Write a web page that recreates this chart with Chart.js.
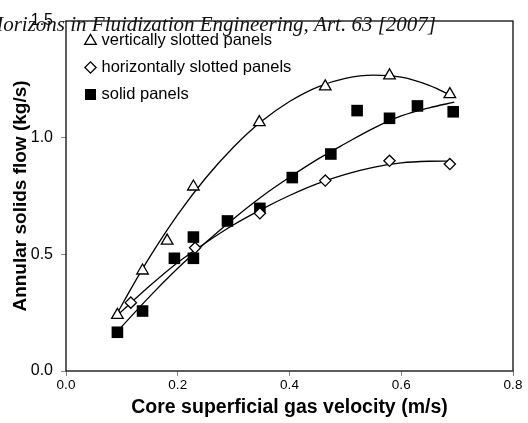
<!DOCTYPE html>
<html><head><meta charset="utf-8">
<script src="https://cdn.jsdelivr.net/npm/chart.js@4/dist/chart.umd.min.js"></script>
<style>html,body{margin:0;padding:0;background:#fff}#wrap{width:528px;height:423px;position:relative}</style>
</head><body><div id="wrap"><canvas id="c" width="528" height="423"></canvas></div>
<script>
const headerText = 'Horizons in Fluidization Engineering, Art. 63 [2007]';
const xTitle = 'Core superficial gas velocity (m/s)';
const yTitle = 'Annular solids flow (kg/s)';
const xTicks = [0, 0.2, 0.4, 0.6, 0.8];
const yTicks = [0, 0.5, 1.0, 1.5];
const seriesNames = ['vertically slotted panels', 'horizontally slotted panels', 'solid panels'];

const vertX = [0.092, 0.137, 0.181, 0.228, 0.346, 0.464, 0.579, 0.687];
const vertY = [0.24, 0.43, 0.558, 0.79, 1.066, 1.219, 1.266, 1.186];
const horX = [0.116, 0.231, 0.347, 0.464, 0.579, 0.687];
const horY = [0.293, 0.528, 0.676, 0.816, 0.901, 0.887];
const solidX = [0.092, 0.137, 0.194, 0.228, 0.228, 0.289, 0.347, 0.405, 0.474, 0.521, 0.579, 0.629, 0.693];
const solidY = [0.166, 0.257, 0.483, 0.574, 0.483, 0.643, 0.697, 0.829, 0.930, 1.116, 1.083, 1.136, 1.111];

// trend curves
const vertFitX = [0.09, 0.12, 0.15, 0.2, 0.25, 0.3, 0.35, 0.4, 0.45, 0.5, 0.55, 0.6, 0.65, 0.69];
const vertFitY = [0.24, 0.368, 0.489, 0.67, 0.827, 0.96, 1.07, 1.155, 1.217, 1.254, 1.268, 1.259, 1.224, 1.18];
const horFitX = [0.09, 0.15, 0.2, 0.25, 0.3, 0.35, 0.4, 0.45, 0.5, 0.55, 0.6, 0.65, 0.69];
const horFitY = [0.235, 0.365, 0.465, 0.55, 0.627, 0.693, 0.752, 0.803, 0.843, 0.873, 0.892, 0.899, 0.90];
const solidFitX = [0.09, 0.15, 0.2, 0.25, 0.3, 0.35, 0.4, 0.45, 0.5, 0.55, 0.6, 0.65, 0.695];
const solidFitY = [0.165, 0.32, 0.44, 0.551, 0.653, 0.747, 0.83, 0.907, 0.975, 1.04, 1.093, 1.128, 1.152];

const pts = (xs, ys) => xs.map((x, i) => ({x: x, y: ys[i]}));

const markerStyles = [
  {pointStyle: 'triangle', radius: 6.7, backgroundColor: '#fff', borderColor: '#000', borderWidth: 1.3},
  {pointStyle: 'rectRot', radius: 5.6, backgroundColor: '#fff', borderColor: '#000', borderWidth: 1.3},
  {pointStyle: 'rect', radius: 8.2, backgroundColor: '#000', borderColor: '#000', borderWidth: 0}
];

function markerDs(label, data, st) {
  return {label: label, data: data, showLine: false, order: 0,
    pointStyle: st.pointStyle, pointRadius: st.radius, pointHoverRadius: st.radius,
    pointBackgroundColor: st.backgroundColor, pointBorderColor: st.borderColor,
    pointBorderWidth: st.borderWidth, pointHoverBorderWidth: st.borderWidth};
}
function curveDs(data) {
  return {label: '', data: data, showLine: true, order: 1, pointRadius: 0, pointHoverRadius: 0,
    borderColor: '#000', borderWidth: 1.3, fill: false, cubicInterpolationMode: 'monotone'};
}

const framePlugin = {
  id: 'frame',
  afterDraw(chart) {
    const {ctx, chartArea: a} = chart;
    ctx.save();
    ctx.strokeStyle = '#1a1a1a';
    ctx.lineWidth = 1.4;
    ctx.strokeRect(a.left, a.top, a.right - a.left, a.bottom - a.top);
    ctx.restore();
  }
};

const legendPlugin = {
  id: 'inlegend',
  afterDraw(chart) {
    const ctx = chart.ctx;
    const rows = [40, 67.5, 94.5];
    ctx.save();
    for (let i = 0; i < 3; i++) {
      const st = markerStyles[i];
      ctx.fillStyle = st.backgroundColor;
      ctx.strokeStyle = st.borderColor;
      ctx.lineWidth = st.borderWidth;
      const r = i === 2 ? 7.8 : st.radius;
      Chart.helpers.drawPoint(ctx, {pointStyle: st.pointStyle, radius: r, rotation: 0, borderWidth: st.borderWidth}, 90.5, rows[i] + (i === 0 ? 1 : 0));
      ctx.fillStyle = '#000';
      ctx.font = '16.5px "Liberation Sans", Arial, sans-serif';
      ctx.textAlign = 'left';
      ctx.textBaseline = 'middle';
      ctx.fillText(seriesNames[i], 101.5, rows[i]);
    }
    ctx.restore();
  }
};

const headerPlugin = {
  id: 'header',
  afterDraw(chart) {
    const ctx = chart.ctx;
    ctx.save();
    ctx.fillStyle = '#111';
    ctx.font = 'italic 21px "Liberation Serif", "DejaVu Serif", serif';
    ctx.textAlign = 'right';
    ctx.textBaseline = 'alphabetic';
    ctx.fillText(headerText, 436, 31);
    ctx.restore();
  }
};

new Chart(document.getElementById('c'), {
  type: 'scatter',
  data: {
    datasets: [
      markerDs(seriesNames[0], pts(vertX, vertY), markerStyles[0]),
      markerDs(seriesNames[1], pts(horX, horY), markerStyles[1]),
      markerDs(seriesNames[2], pts(solidX, solidY), markerStyles[2]),
      curveDs(pts(vertFitX, vertFitY)),
      curveDs(pts(horFitX, horFitY)),
      curveDs(pts(solidFitX, solidFitY))
    ]
  },
  options: {
    responsive: false,
    animation: false,
    devicePixelRatio: 1,
    layout: {padding: {left: 0, right: 15, top: 21, bottom: 0}},
    plugins: {legend: {display: false}, tooltip: {enabled: false}},
    events: [],
    scales: {
      x: {
        type: 'linear', min: 0, max: 0.8,
        afterBuildTicks: s => { s.ticks = xTicks.map(v => ({value: v})); },
        afterFit: s => { s.height = 52; },
        ticks: {callback: v => Number(v).toFixed(1), color: '#000', padding: 1,
          font: {family: '"Liberation Sans", Arial, sans-serif', size: 13.5}, maxRotation: 0},
        grid: {display: true, drawOnChartArea: false, drawTicks: true, tickLength: 5, color: '#888'},
        border: {display: false},
        title: {display: true, text: xTitle, color: '#000', padding: {top: 0, bottom: 4},
          font: {family: '"Liberation Sans", Arial, sans-serif', size: 19.5, weight: 'bold'}}
      },
      y: {
        type: 'linear', min: 0, max: 1.5,
        afterBuildTicks: s => { s.ticks = yTicks.map(v => ({value: v})); },
        afterFit: s => { s.width = 66; },
        ticks: {callback: v => Number(v).toFixed(1), color: '#000', padding: 8,
          font: {family: '"Liberation Sans", Arial, sans-serif', size: 16}},
        grid: {display: true, drawOnChartArea: false, drawTicks: true, tickLength: 5, color: '#888'},
        border: {display: false},
        title: {display: true, text: yTitle, color: '#000', padding: {top: 9, bottom: 0},
          font: {family: '"Liberation Sans", Arial, sans-serif', size: 19, weight: 'bold'}}
      }
    }
  },
  plugins: [framePlugin, legendPlugin, headerPlugin]
});
</script>
</body></html>
